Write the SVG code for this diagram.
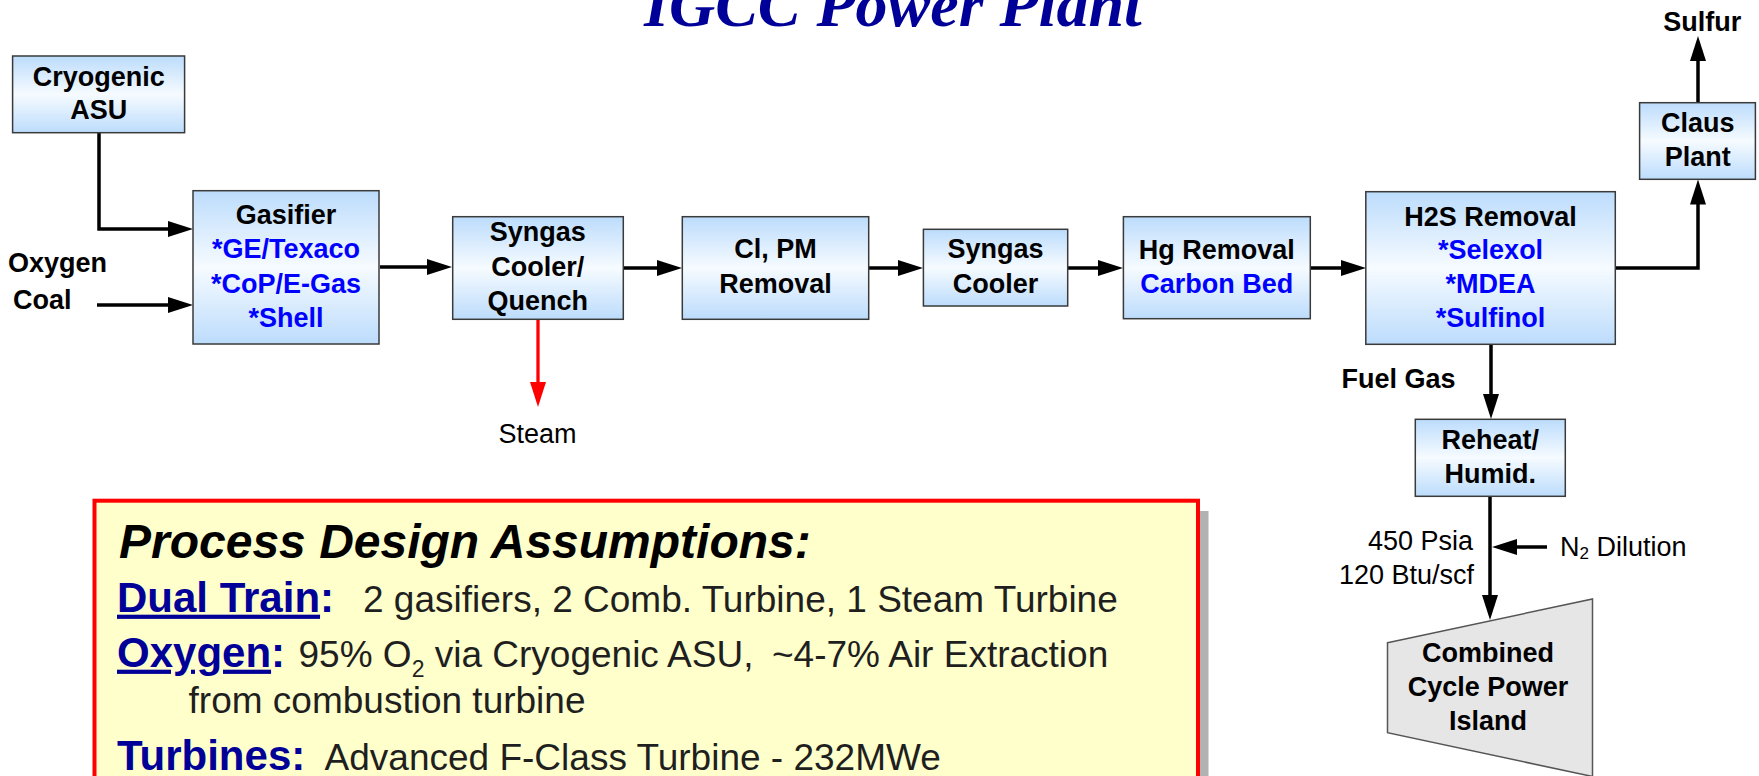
<svg xmlns="http://www.w3.org/2000/svg" width="1759" height="776" viewBox="0 0 1759 776">
<defs>
<style>
.box{fill:url(#bg);stroke:#3a3a3a;stroke-width:1.5}
.lbl{font-family:"Liberation Sans",Arial,sans-serif;font-weight:bold;font-size:27px;fill:#000;text-anchor:middle}
.blu{fill:#0000ff}
.txt{font-family:"Liberation Sans",Arial,sans-serif;font-size:27px;fill:#000}
.btxt{font-family:"Liberation Sans",Arial,sans-serif;font-weight:bold;font-size:27px;fill:#000}
.conn{stroke:#000;stroke-width:3.5;fill:none;marker-end:url(#ah)}
.connr{stroke:#ff0000;stroke-width:3.3;fill:none;marker-end:url(#ahr)}
.hdr{font-family:"Liberation Sans",Arial,sans-serif;font-weight:bold;font-size:42px;fill:#000099}
.body{font-family:"Liberation Sans",Arial,sans-serif;font-size:37px;fill:#1f1f1f}
</style>
<linearGradient id="bg" x1="0" y1="0" x2="0" y2="1">
<stop offset="0" stop-color="#bcdcfc"/>
<stop offset="0.5" stop-color="#f6fbff"/>
<stop offset="1" stop-color="#bcdcfc"/>
</linearGradient>
<marker id="ah" viewBox="0 0 25 16" refX="13" refY="8" markerWidth="25" markerHeight="16" markerUnits="userSpaceOnUse" orient="auto">
<path d="M0,0 L25,8 L0,16 z" fill="#000"/>
</marker>
<marker id="ahr" viewBox="0 0 25 16" refX="13" refY="8" markerWidth="25" markerHeight="16" markerUnits="userSpaceOnUse" orient="auto">
<path d="M0,0 L25,8 L0,16 z" fill="#ff0000"/>
</marker>
</defs>
<rect width="1759" height="776" fill="#fff"/>

<text id="title" x="644" y="26" font-family="'Liberation Serif','Times New Roman',serif" font-weight="bold" font-style="italic" font-size="64" fill="#000099">IGCC Power Plant</text>

<g id="connectors">
<path class="conn" d="M99,133 V229 H181"/>
<path class="conn" d="M97,305 H181"/>
<path class="conn" d="M380,267 H440"/>
<path class="connr" d="M538,320 V395"/>
<path class="conn" d="M623,268 H670"/>
<path class="conn" d="M869,268 H911"/>
<path class="conn" d="M1068,268 H1111"/>
<path class="conn" d="M1310,268 H1354"/>
<path class="conn" d="M1615,268 H1698 V191.5"/>
<path class="conn" d="M1698,103 V48"/>
<path class="conn" d="M1491,344 V407"/>
<path class="conn" d="M1490,496 V608"/>
<path class="conn" d="M1547,547 H1504"/>
</g>

<g id="asu">
<rect class="box" x="12.6" y="56" width="172" height="76.7"/>
<text class="lbl"><tspan x="98.7" y="86">Cryogenic</tspan><tspan x="98.7" y="119.3">ASU</tspan></text>
</g>

<g id="gasifier">
<rect class="box" x="193" y="190.7" width="186" height="153.3"/>
<text class="lbl"><tspan x="286" y="224">Gasifier</tspan><tspan class="blu" x="286" y="258.3">*GE/Texaco</tspan><tspan class="blu" x="286" y="292.7">*CoP/E-Gas</tspan><tspan class="blu" x="286" y="326.7">*Shell</tspan></text>
</g>

<g id="syngas-quench">
<rect class="box" x="452.7" y="216.7" width="170.6" height="102.6"/>
<text class="lbl"><tspan x="537.8" y="240.7">Syngas</tspan><tspan x="537.8" y="276">Cooler/</tspan><tspan x="537.8" y="310">Quench</tspan></text>
</g>

<g id="cl-pm-removal">
<rect class="box" x="682.3" y="216.7" width="186.4" height="102.6"/>
<text class="lbl"><tspan x="775.5" y="258.3">Cl, PM</tspan><tspan x="775.5" y="292.7">Removal</tspan></text>
</g>

<g id="syngas-cooler">
<rect class="box" x="923.4" y="229.3" width="144.3" height="76.7"/>
<text class="lbl"><tspan x="995.5" y="258.3">Syngas</tspan><tspan x="995.5" y="292.7">Cooler</tspan></text>
</g>

<g id="hg-removal">
<rect class="box" x="1123.4" y="216.7" width="186.9" height="102"/>
<text class="lbl"><tspan x="1216.8" y="259">Hg Removal</tspan><tspan class="blu" x="1216.8" y="292.7">Carbon Bed</tspan></text>
</g>

<g id="h2s-removal">
<rect class="box" x="1365.8" y="191.7" width="249.5" height="152.6"/>
<text class="lbl"><tspan x="1490.6" y="225.7">H2S Removal</tspan><tspan class="blu" x="1490.6" y="259.3">*Selexol</tspan><tspan class="blu" x="1490.6" y="293.3">*MDEA</tspan><tspan class="blu" x="1490.6" y="327.3">*Sulfinol</tspan></text>
</g>

<g id="claus-plant">
<rect class="box" x="1639.6" y="102.7" width="115.8" height="76.6"/>
<text class="lbl"><tspan x="1697.7" y="131.7">Claus</tspan><tspan x="1697.7" y="166">Plant</tspan></text>
</g>

<g id="reheat">
<rect class="box" x="1415.3" y="419.3" width="150" height="77"/>
<text class="lbl"><tspan x="1490.3" y="449">Reheat/</tspan><tspan x="1490.3" y="482.7">Humid.</tspan></text>
</g>

<g id="combined-cycle">
<polygon points="1387.5,642.7 1592.5,599 1592.5,776.5 1387.5,732.7" fill="#e6e6e6" stroke="#555" stroke-width="1.5"/>
<text class="lbl"><tspan x="1488" y="662">Combined</tspan><tspan x="1488" y="696">Cycle Power</tspan><tspan x="1488" y="730">Island</tspan></text>
</g>

<g id="labels">
<text class="btxt" x="8" y="272">Oxygen</text>
<text class="btxt" x="13" y="309">Coal</text>
<text class="txt" x="537.5" y="442.7" text-anchor="middle">Steam</text>
<text class="lbl" x="1702.3" y="31">Sulfur</text>
<text class="btxt" x="1341.5" y="388.3">Fuel Gas</text>
<text class="txt" x="1473" y="550" text-anchor="end">450 Psia</text>
<text class="txt" x="1474" y="584.3" text-anchor="end">120 Btu/scf</text>
<text class="txt" x="1560" y="555.7">N<tspan font-size="17" dy="3">2</tspan><tspan dy="-3"> Dilution</tspan></text>
</g>

<g id="assumptions">
<rect x="105" y="511" width="1103.5" height="300" fill="#b2b2b2"/>
<rect x="94.5" y="500.7" width="1103.5" height="300" fill="#ffffcc" stroke="#ff0000" stroke-width="4"/>
<text x="119" y="558.3" font-family="'Liberation Sans',Arial,sans-serif" font-weight="bold" font-style="italic" font-size="48" fill="#000">Process Design Assumptions:</text>
<text class="hdr" x="117" y="611.7"><tspan text-decoration="underline">Dual Train</tspan>:</text>
<text class="body" x="363" y="611.7">2 gasifiers, 2 Comb. Turbine, 1 Steam Turbine</text>
<text class="hdr" x="117" y="666.7"><tspan text-decoration="underline">Oxygen</tspan>:</text>
<text class="body" x="298.5" y="666.7">95% O<tspan font-size="23" dy="10">2</tspan><tspan dy="-10"> via Cryogenic ASU,</tspan><tspan x="772">~4-7% Air Extraction</tspan></text>
<text class="body" x="188.6" y="712.7">from combustion turbine</text>
<text class="hdr" x="117" y="770">Turbines:</text>
<text class="body" x="324.6" y="770">Advanced F-Class Turbine - 232MWe</text>
</g>
</svg>
